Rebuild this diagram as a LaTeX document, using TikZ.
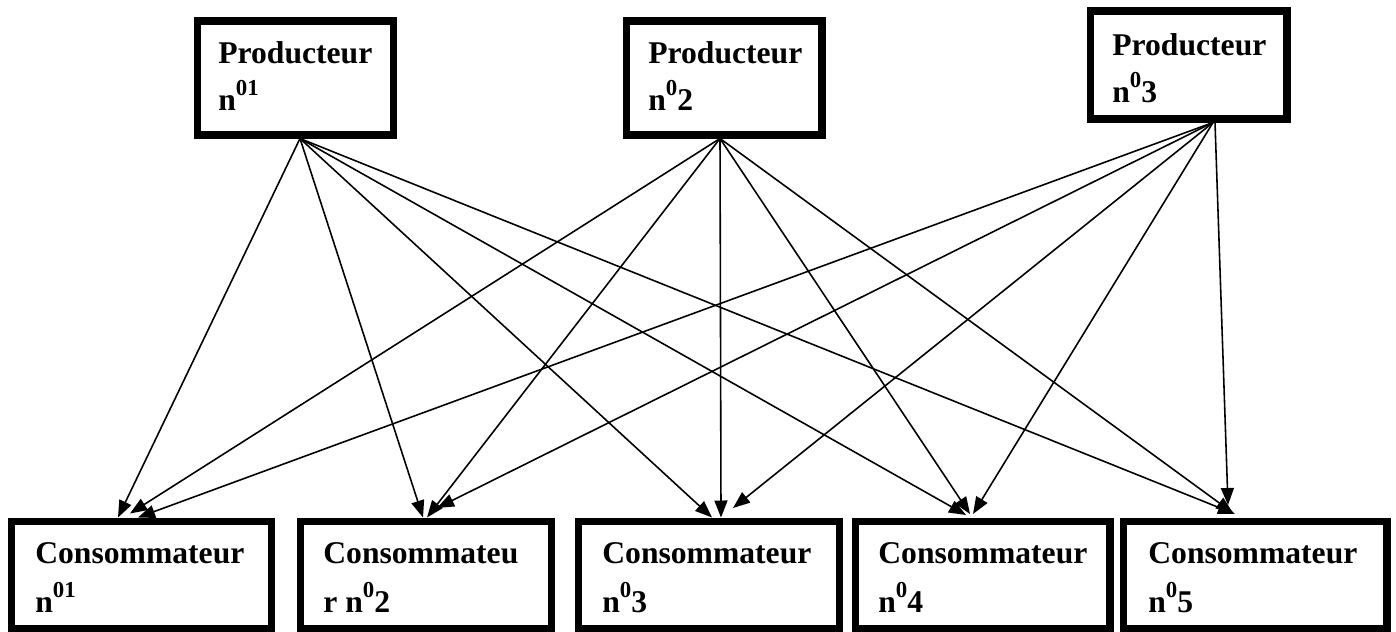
\documentclass[tikz,border=0pt]{standalone}
\usepackage{fontspec}
\setmainfont{Liberation Serif}
\usetikzlibrary{arrows.meta,calc}
\newcommand{\expo}[1]{\raisebox{8.5pt}{\fontsize{13}{13}\selectfont\bfseries #1}}
\tikzset{
  box/.style={draw, line width=4pt, rectangle, inner sep=0pt},
  txt/.style={anchor=base west, inner sep=0pt, font=\fontsize{18}{18}\selectfont\bfseries},
  arr/.style={line width=0.9pt, -{Triangle[length=0.34cm,width=0.26cm]}}
}
\begin{document}
\begin{tikzpicture}[x=0.02cm, y=-0.02cm]
\useasboundingbox (0,0) rectangle (1396,632);
% producer boxes
\node[box, minimum width=3.94cm, minimum height=2.28cm] (p1) at (295.5,78) {};
\node[box, minimum width=3.92cm, minimum height=2.28cm] (p2) at (724,78) {};
\node[box, minimum width=3.94cm, minimum height=2.16cm] (p3) at (1188.5,65) {};
% consumer boxes
\node[box, minimum width=5.22cm, minimum height=2.16cm] (c1) at (141.5,575) {};
\node[box, minimum width=5.04cm, minimum height=2.16cm] (c2) at (426,575) {};
\node[box, minimum width=5.24cm, minimum height=2.16cm] (c3) at (709,575) {};
\node[box, minimum width=5.10cm, minimum height=2.16cm] (c4) at (982.5,575) {};
\node[box, minimum width=5.28cm, minimum height=2.16cm] (c5) at (1255,575) {};
% texts
\node[txt] (p1a) at (218,63) {Producteur};
\node[txt] (p1b) at (218,110) {n\expo{01}};
\node[txt] (p2a) at (648,63) {Producteur};
\node[txt] (p2b) at (648,110) {n\expo{0}2};
\node[txt] (p3a) at (1112,55) {Producteur};
\node[txt] (p3b) at (1112,102) {n\expo{0}3};
\node[txt] (c1a) at (35,563) {Consommateur};
\node[txt] (c1b) at (35,612) {n\expo{01}};
\node[txt] (c2a) at (323,563) {Consommateu};
\node[txt] (c2b) at (323,612) {r n\expo{0}2};
\node[txt] (c3a) at (602,563) {Consommateur};
\node[txt] (c3b) at (602,612) {n\expo{0}3};
\node[txt] (c4a) at (878,563) {Consommateur};
\node[txt] (c4b) at (878,612) {n\expo{0}4};
\node[txt] (c5a) at (1148,563) {Consommateur};
\node[txt] (c5b) at (1148,612) {n\expo{0}5};
% connectors from producer 1
\draw[arr] ($(p1.south)+(4.5,0)$) -- ($(c1.north west)+(110.5,0)$);
\draw[arr] ($(p1.south)+(4.5,0)$) -- ($(c2.north west)+(126.5,0)$);
\draw[arr] ($(p1.south)+(4.5,0)$) -- ($(c3.north west)+(137.5,0)$);
\draw[arr] ($(p1.south)+(4.5,0)$) -- ($(c4.north west)+(114.5,-2.5)$);
\draw[arr] ($(p1.south)+(4.5,0)$) -- ($(c5.north west)+(115.5,-3.5)$);
% connectors from producer 2
\draw[arr] ($(p2.south)+(-4,0)$) -- ($(c1.north west)+(122.5,-4)$);
\draw[arr] ($(p2.south)+(-4,0)$) -- ($(c2.north west)+(130.5,0)$);
\draw[arr] ($(p2.south)+(-4,0)$) -- ($(c3.north west)+(146.5,0)$);
\draw[arr] ($(p2.south)+(-4,0)$) -- ($(c4.north west)+(118.5,-3.5)$);
\draw[arr] ($(p2.south)+(-4,0)$) -- ($(c5.north west)+(113.5,-4.5)$);
% connectors from producer 3
\draw[arr] ($(p3.south)+(24.5,0)$) -- ($(c1.north west)+(130.5,0)$);
\draw[arr] ($(p3.south)+(24.5,0)$) -- ($(c2.north west)+(140.5,-9.5)$);
\draw[arr] ($(p3.south)+(24.5,0)$) -- ($(c3.north west)+(158.5,-9.5)$);
\draw[arr] ($(p3.south)+(24.5,0)$) -- ($(c4.north west)+(121.5,-3.5)$);
\draw[arr] ($(p3.south)+(26.5,0)$) -- ($(c5.north west)+(108.5,-12.5)$);
\end{tikzpicture}
\end{document}
